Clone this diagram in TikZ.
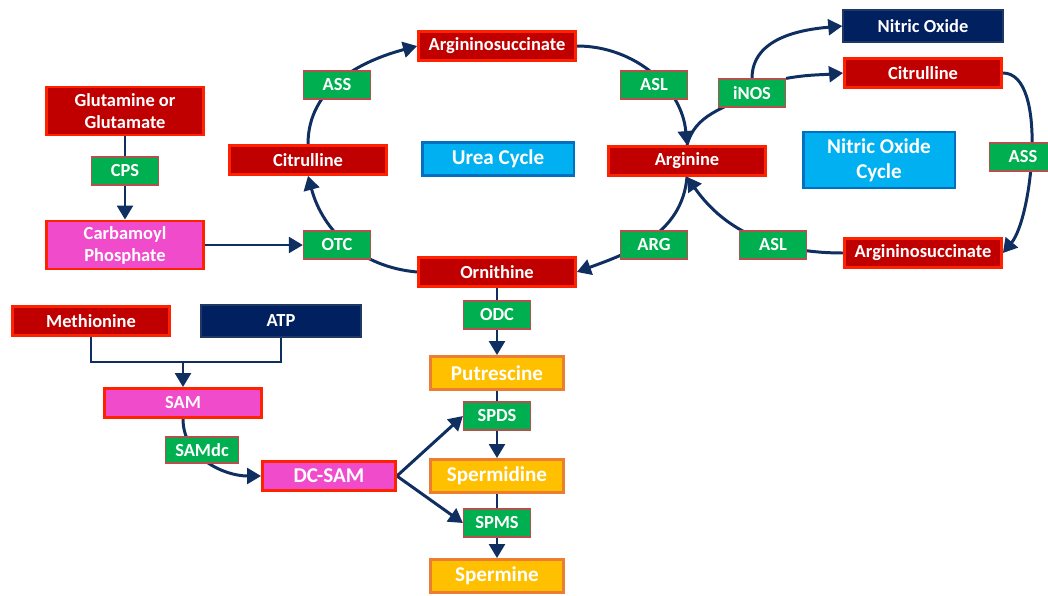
\documentclass[tikz,border=0pt]{standalone}
\usepackage{fontspec}
\setmainfont{Carlito}
\usepackage{xcolor}
\usepackage{tikz}
\usetikzlibrary{arrows.meta,backgrounds}

\definecolor{metred}{HTML}{C00000}
\definecolor{redline}{HTML}{FF2200}
\definecolor{metpink}{HTML}{F04BCB}
\definecolor{enzgreen}{HTML}{00B050}
\definecolor{enzline}{HTML}{B5504D}
\definecolor{navyfill}{HTML}{002060}
\definecolor{navyline}{HTML}{1F3864}
\definecolor{cycblue}{HTML}{00B0F0}
\definecolor{cycline}{HTML}{0070C0}
\definecolor{polyfill}{HTML}{FFC000}
\definecolor{polyline}{HTML}{ED7D31}
\definecolor{flow}{HTML}{0F2F60}

\tikzset{
  box/.style={rectangle, text=white, inner sep=1pt, align=center,
    font=\bfseries\fontsize{10.5}{12.5}\selectfont},
  metab/.style={box, fill=metred, draw=redline, line width=1.6pt,
    minimum width=3.14cm, minimum height=0.58cm},
  pinkbox/.style={metab, fill=metpink},
  navybox/.style={box, fill=navyfill, draw=navyline, line width=0.8pt,
    minimum width=3.2cm, minimum height=0.64cm},
  enzyme/.style={box, fill=enzgreen, draw=enzline, line width=0.7pt,
    minimum width=1.34cm, minimum height=0.56cm},
  cyclebox/.style={box, fill=cycblue, draw=cycline, line width=1.4pt,
    minimum width=3.03cm, font=\bfseries\fontsize{12}{14}\selectfont},
  polyam/.style={box, fill=polyfill, draw=polyline, line width=1.6pt,
    minimum width=2.66cm, minimum height=0.66cm,
    font=\bfseries\fontsize{12}{14}\selectfont},
  flowline/.style={draw=flow, line width=1.7pt},
  flowarrow/.style={flowline, -{Triangle[length=8pt,width=9pt]}},
}

\begin{document}
\begin{tikzpicture}[x=0.02cm, y=-0.02cm]
   \useasboundingbox (0,0) rectangle (1048,595);

   % urea cycle metabolites
   \node[metab, minimum height=0.96cm] (glu) at (125,111) {Glutamine or\\Glutamate};
   \node[pinkbox, minimum height=0.96cm] (cbp) at (125,245) {Carbamoyl\\Phosphate};
   \node[metab] (cit1) at (308,160) {Citrulline};
   \node[metab] (asa1) at (497,46) {Argininosuccinate};
   \node[metab] (arg) at (687,161) {Arginine};
   \node[metab] (orn) at (497,272) {Ornithine};
   \node[cyclebox, minimum height=0.66cm] (urea) at (498,159) {Urea Cycle};

   % nitric oxide cycle
   \node[navybox] (no) at (923,26) {Nitric Oxide};
   \node[metab] (cit2) at (923,73) {Citrulline};
   \node[metab] (asa2) at (923,253) {Argininosuccinate};
   \node[cyclebox, minimum height=1.12cm] (nocyc) at (879,160) {Nitric Oxide\\Cycle};

   % SAM branch
   \node[metab] (met) at (91,321) {Methionine};
   \node[navybox] (atp) at (281,321) {ATP};
   \node[pinkbox] (sam) at (183,403) {SAM};
   \node[pinkbox, minimum width=2.66cm,
     font=\bfseries\fontsize{12}{14}\selectfont] (dcsam) at (329,476) {DC-SAM};
   \coordinate (join) at (183,362);

   % polyamines
   \node[polyam] (put) at (497,373) {Putrescine};
   \node[polyam] (spd) at (497,476) {Spermidine};
   \node[polyam] (spm) at (497,576) {Spermine};

   % enzymes
   \node[enzyme] (cps) at (125,171) {CPS};
   \node[enzyme] (otc) at (337,245) {OTC};
   \node[enzyme] (ass1) at (337,85) {ASS};
   \node[enzyme] (asl1) at (654,85) {ASL};
   \node[enzyme] (argase) at (654,245) {ARG};
   \node[enzyme] (inos) at (752,93) {iNOS};
   \node[enzyme] (ass2) at (1023,157) {ASS};
   \node[enzyme] (asl2) at (773,245) {ASL};
   \node[enzyme] (odc) at (497,315) {ODC};
   \node[enzyme] (spds) at (497,416) {SPDS};
   \node[enzyme] (spms) at (497,523) {SPMS};
   \node[enzyme, minimum width=1.46cm, minimum height=0.52cm] (samdc) at (202,450) {SAMdc};

   \begin{scope}[on background layer]
      % straight chains through an enzyme
      \foreach \a/\e/\b in {glu/cps/cbp, orn/odc/put, put/spds/spd, spd/spms/spm} {
         \draw[flowline] (\a) -- (\e);
         \draw[flowarrow] (\e) -- (\b);
      }
      \draw[flowarrow] (cbp) -- (otc);

      % urea cycle
      \draw[flowarrow] (cit1.north) to[out=90, in=195] (asa1.west);
      \draw[flowarrow] (asa1.east) to[out=0, in=95] (arg.north);
      \draw[flowarrow] (arg.south) to[out=-95, in=20] (orn.east);
      \draw[flowarrow] (orn.west) to[out=175, in=-75] (cit1.south);

      % nitric oxide cycle
      \draw[flowline] (arg.north) to[out=75, in=210] (inos.center);
      \draw[flowarrow] (inos.north) to[out=90, in=185] (no.west);
      \draw[flowarrow] (inos.north east) to[out=10, in=185] (cit2.west);
      \draw[flowarrow] (cit2.east) to[out=0, in=50, looseness=0.65] (asa2.east);
      \draw[flowarrow] (asa2.west) to[out=180, in=-55] (arg.south);

      % SAM to DC-SAM
      \draw[flowline] (met.south) |- (join) -| (atp.south);
      \draw[flowarrow] (join) -- (sam.north);
      \draw[flowarrow] (sam.south) to[out=-90, in=180] (dcsam.west);
      \draw[flowarrow] (dcsam.east) -- (spds.west);
      \draw[flowarrow] (dcsam.east) -- (spms.west);
   \end{scope}
\end{tikzpicture}
\end{document}
